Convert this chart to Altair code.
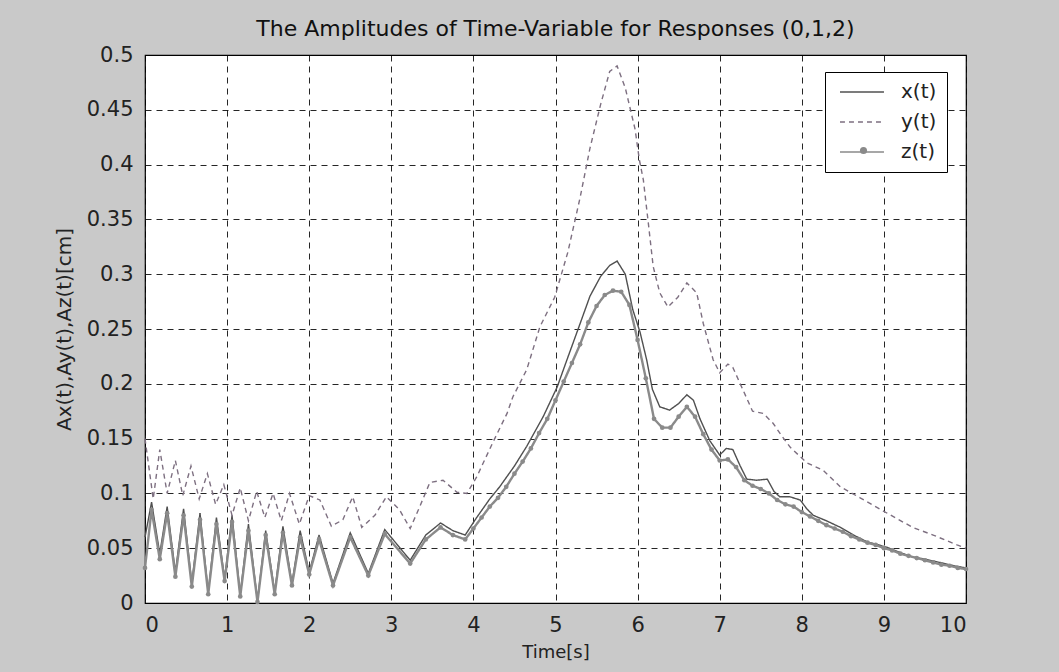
import altair as alt
import pandas as pd

# ---- data ----
x_time = [0.00, 0.08, 0.18, 0.27, 0.37, 0.47, 0.57, 0.67, 0.77, 0.87, 0.97, 1.06, 1.16, 1.26,
          1.37, 1.47, 1.58, 1.68, 1.79, 1.89, 2.00, 2.12, 2.29, 2.50, 2.72, 2.92, 3.23, 3.42,
          3.60, 3.75, 3.90, 4.04, 4.20, 4.32, 4.50, 4.65, 4.85, 5.02, 5.14, 5.30, 5.42, 5.55,
          5.66, 5.75, 5.85, 5.94, 6.03, 6.11, 6.18, 6.27, 6.39, 6.50, 6.60, 6.68, 6.76, 6.88,
          7.00, 7.08, 7.16, 7.25, 7.33, 7.45, 7.58, 7.66, 7.73, 7.85, 7.98, 8.06, 8.14, 8.30,
          8.47, 8.63, 8.79, 9.03, 9.20, 9.35, 9.50, 9.68, 9.85, 10.0]
x_amp = [0.060, 0.092, 0.045, 0.088, 0.028, 0.086, 0.018, 0.082, 0.010, 0.078, 0.022, 0.080, 0.008, 0.072,
         0.002, 0.066, 0.010, 0.070, 0.018, 0.066, 0.028, 0.062, 0.018, 0.064, 0.027, 0.067, 0.039, 0.062,
         0.073, 0.066, 0.062, 0.078, 0.095, 0.106, 0.125, 0.143, 0.170, 0.197, 0.222, 0.255, 0.280, 0.298,
         0.308, 0.312, 0.300, 0.268, 0.247, 0.222, 0.195, 0.179, 0.176, 0.182, 0.190, 0.185, 0.168, 0.148,
         0.135, 0.141, 0.140, 0.125, 0.113, 0.112, 0.113, 0.102, 0.097, 0.097, 0.094, 0.086, 0.080, 0.075,
         0.069, 0.062, 0.056, 0.051, 0.046, 0.042, 0.040, 0.037, 0.034, 0.032]

y_time = [0.00, 0.10, 0.18, 0.27, 0.37, 0.46, 0.56, 0.66, 0.76, 0.86, 0.96, 1.06, 1.16, 1.26,
          1.36, 1.46, 1.56, 1.66, 1.76, 1.88, 2.00, 2.13, 2.27, 2.41, 2.53, 2.64, 2.80, 2.94,
          3.10, 3.23, 3.33, 3.47, 3.63, 3.80, 3.92, 4.04, 4.24, 4.41, 4.48, 4.65, 4.81, 4.99,
          5.15, 5.30, 5.42, 5.55, 5.66, 5.75, 5.85, 5.97, 6.02, 6.07, 6.13, 6.19, 6.27, 6.37,
          6.49, 6.60, 6.72, 6.80, 6.92, 7.00, 7.10, 7.16, 7.28, 7.40, 7.53, 7.65, 7.76, 7.86,
          8.06, 8.26, 8.47, 8.71, 8.92, 9.11, 9.35, 9.60, 9.89, 10.0]
y_amp = [0.150, 0.095, 0.140, 0.100, 0.130, 0.098, 0.125, 0.095, 0.118, 0.090, 0.108, 0.080, 0.105, 0.075,
         0.102, 0.078, 0.100, 0.075, 0.100, 0.072, 0.098, 0.094, 0.070, 0.076, 0.097, 0.069, 0.080, 0.097,
         0.085, 0.068, 0.085, 0.110, 0.112, 0.101, 0.100, 0.115, 0.147, 0.173, 0.188, 0.213, 0.252, 0.279,
         0.320, 0.370, 0.415, 0.455, 0.485, 0.490, 0.470, 0.432, 0.405, 0.386, 0.347, 0.307, 0.283, 0.270,
         0.279, 0.292, 0.283, 0.255, 0.222, 0.210, 0.218, 0.215, 0.195, 0.175, 0.173, 0.164, 0.152, 0.142,
         0.128, 0.121, 0.106, 0.096, 0.087, 0.079, 0.069, 0.062, 0.053, 0.050]

z_time = [0.00, 0.08, 0.18, 0.27, 0.37, 0.47, 0.57, 0.67, 0.77, 0.87, 0.97, 1.06, 1.16, 1.26,
          1.37, 1.47, 1.58, 1.68, 1.79, 1.89, 2.00, 2.12, 2.29, 2.50, 2.72, 2.92, 3.23, 3.42,
          3.60, 3.75, 3.90, 4.00, 4.10, 4.20, 4.30, 4.40, 4.50, 4.60, 4.70, 4.80, 4.90, 5.00,
          5.10, 5.20, 5.30, 5.40, 5.50, 5.60, 5.70, 5.80, 5.90, 6.00, 6.10, 6.20, 6.30, 6.40,
          6.50, 6.60, 6.70, 6.80, 6.90, 7.00, 7.10, 7.20, 7.30, 7.40, 7.50, 7.60, 7.70, 7.80,
          7.90, 8.00, 8.10, 8.20, 8.30, 8.40, 8.50, 8.60, 8.70, 8.80, 8.90, 9.00, 9.10, 9.20,
          9.30, 9.40, 9.50, 9.60, 9.70, 9.80, 9.90, 10.0]
z_amp = [0.032, 0.085, 0.040, 0.082, 0.024, 0.080, 0.015, 0.076, 0.008, 0.072, 0.020, 0.074, 0.006, 0.066,
         0.001, 0.062, 0.008, 0.064, 0.016, 0.060, 0.026, 0.058, 0.016, 0.060, 0.025, 0.063, 0.036, 0.058,
         0.069, 0.062, 0.058, 0.068, 0.078, 0.088, 0.096, 0.106, 0.118, 0.129, 0.141, 0.155, 0.168, 0.185,
         0.202, 0.219, 0.236, 0.256, 0.271, 0.281, 0.285, 0.284, 0.272, 0.240, 0.205, 0.168, 0.160, 0.160,
         0.170, 0.179, 0.170, 0.154, 0.140, 0.130, 0.131, 0.124, 0.112, 0.107, 0.104, 0.100, 0.094, 0.090,
         0.088, 0.083, 0.079, 0.075, 0.071, 0.068, 0.065, 0.061, 0.058, 0.055, 0.053, 0.050, 0.048, 0.045,
         0.043, 0.041, 0.039, 0.037, 0.035, 0.034, 0.032, 0.031]

series = ["x(t)", "y(t)", "z(t)"]
colors = ["#505050", "#7d6f80", "#8a8a8a"]
dashes = [[1, 0], [5, 4], [1, 0]]
x_ticks = [0, 1, 2, 3, 4, 5, 6, 7, 8, 9, 10]
y_ticks = [0, 0.05, 0.1, 0.15, 0.2, 0.25, 0.3, 0.35, 0.4, 0.45, 0.5]

rows = []
for name, ts, vs in [("x(t)", x_time, x_amp), ("y(t)", y_time, y_amp), ("z(t)", z_time, z_amp)]:
    for t, v in zip(ts, vs):
        rows.append({"t": t, "v": v, "s": name})
df = pd.DataFrame(rows)

FONT = "DejaVu Sans"

legend = alt.Legend(
    title=None, orient="none", legendX=680, legendY=17,
    fillColor="white", strokeColor="black", padding=10,
    labelFont=FONT, labelFontSize=20, labelColor="#222222", labelOffset=46,
    symbolType="M-0.56,0H4.33", symbolSize=324, symbolStrokeWidth=1.6, rowPadding=10,
)
# marker dot overlaid on the z(t) legend entry
dot_legend = alt.Legend(
    title=None, orient="none", legendX=714, legendY=91, padding=0,
    labelFontSize=1, labelOpacity=0, symbolSize=50, symbolType="circle",
    symbolFillColor="#8a8a8a", symbolStrokeColor="#8a8a8a", symbolOpacity=1,
)

xenc = alt.X("t:Q", scale=alt.Scale(domain=[0, 10], nice=False, zero=False),
             axis=alt.Axis(values=x_ticks, format="d", title="Time[s]", labelPadding=11,
                           titlePadding=8, titleFontSize=18))
yenc = alt.Y("v:Q", scale=alt.Scale(domain=[0, 0.5], nice=False),
             axis=alt.Axis(values=y_ticks, format="~g", title="Ax(t),Ay(t),Az(t)[cm]", labelPadding=12,
                           titlePadding=12, titleFontSize=20))
cenc = alt.Color("s:N", scale=alt.Scale(domain=series, range=colors), legend=legend)
denc = alt.StrokeDash("s:N", scale=alt.Scale(domain=series, range=dashes), legend=legend)

base = alt.Chart(df)
l_xy = base.transform_filter("datum.s != 'z(t)'").mark_line(strokeWidth=1.4).encode(
    x=xenc, y=yenc, color=cenc, strokeDash=denc)
l_z = base.transform_filter("datum.s == 'z(t)'").mark_line(strokeWidth=2.4).encode(
    x=xenc, y=yenc, color=cenc, strokeDash=denc)
p_z = base.transform_filter("datum.s == 'z(t)'").mark_point(filled=True, size=22, opacity=1).encode(
    x=xenc, y=yenc, color=alt.value("#8a8a8a"),
    shape=alt.Shape("s:N", scale=alt.Scale(domain=["z(t)"], range=["circle"]), legend=dot_legend))

chart = alt.layer(l_xy, l_z, p_z).properties(
    width=821, height=548,
    title=alt.TitleParams("The Amplitudes of Time-Variable for Responses (0,1,2)",
                          font=FONT, fontSize=22, fontWeight="normal", color="#111111", offset=3),
    padding={"left": 145, "top": 55, "right": 93, "bottom": 69},
    autosize="none",
    background="#c9c9c9",
).configure_view(
    stroke="black", strokeWidth=1.2, fill="white"
).configure_axis(
    grid=True, gridColor="black", gridDash=[6, 5], gridOpacity=0.85, gridWidth=1,
    domain=False, ticks=False,
    labelFont=FONT, labelFontSize=21, labelColor="#222222",
    titleFont=FONT, titleFontWeight="normal", titleColor="#222222",
)

chart.save("out.html", embed_options={"renderer": "svg", "actions": False})
